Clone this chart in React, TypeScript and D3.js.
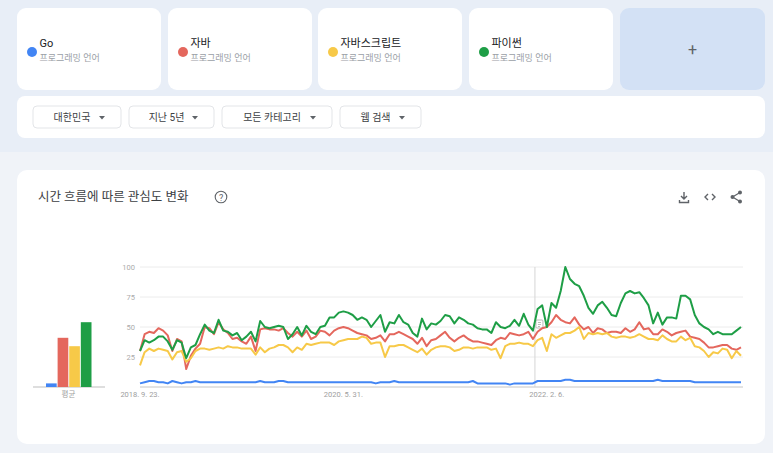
import { useEffect } from 'react';
import * as d3 from 'd3';

// search terms shown in the compare cards
const terms = ['Go', '자바', '자바스크립트', '파이썬'];
const termSub = '프로그래밍 언어';
const colors = ['#4285f4', '#e4675d', '#f7c948', '#1e9e46'];

const filters = ['대한민국', '지난 5년', '모든 카테고리', '웹 검색'];

// averages (left mini bar chart)
const averages = [3, 41, 34, 54];

// bi-weekly samples from 2018-09-23
const goSeries = [
  3, 4, 5, 5, 4, 4, 3, 5, 4, 3, 4, 4, 5, 4, 4, 4, 4, 4, 4, 4, 4, 4, 4, 4, 4, 4, 5,
  4, 4, 4, 5, 5, 4, 4, 4, 4, 4, 4, 4, 4, 4, 4, 4, 4, 4, 4, 4, 4, 4, 4, 4, 3, 4,
  4, 4, 5, 4, 4, 4, 4, 4, 4, 4, 4, 4, 4, 4, 4, 4, 4, 4, 4, 5, 3, 3, 3, 3, 3, 3,
  3, 2, 3, 3, 3, 3, 3, 5, 5, 5, 5, 5, 5, 6, 6, 5, 5, 5, 5, 5, 5, 5, 5, 5, 5, 5,
  5, 5, 5, 5, 5, 5, 5, 6, 5, 5, 5, 5, 5, 5, 5, 4, 4, 4, 4, 4, 4, 4, 4, 4, 4, 4,
];
const javaSeries = [
  30, 44, 46, 45, 49, 47, 43, 30, 40, 38, 15, 26, 32, 36, 50, 49, 44, 54, 48, 45, 40, 41, 38, 36, 42, 30, 48,
  49, 48, 48, 47, 49, 45, 42, 46, 42, 47, 40, 42, 47, 46, 43, 47, 49, 50, 49, 47, 45, 44, 43, 40, 41, 43,
  38, 44, 44, 46, 44, 42, 40, 36, 41, 34, 39, 40, 43, 46, 41, 38, 41, 43, 40, 38, 38, 37, 36, 35, 39, 41,
  40, 45, 44, 43, 44, 46, 40, 46, 49, 50, 54, 60, 56, 54, 53, 58, 52, 48, 50, 45, 49, 48, 45, 46, 46, 45,
  49, 46, 48, 54, 48, 49, 44, 44, 48, 46, 43, 45, 46, 47, 42, 41, 40, 37, 33, 33, 34, 35, 35, 32, 31, 33,
];
const jsSeries = [
  18, 29, 32, 30, 32, 31, 30, 23, 29, 30, 21, 24, 30, 32, 32, 31, 32, 33, 32, 34, 33, 33, 32, 32, 32, 27, 33,
  29, 32, 33, 35, 35, 33, 29, 33, 31, 36, 35, 36, 37, 37, 37, 35, 38, 39, 40, 40, 40, 42, 41, 36, 37, 37,
  25, 34, 34, 35, 35, 33, 31, 29, 32, 27, 31, 33, 34, 34, 33, 30, 31, 33, 33, 32, 33, 33, 33, 31, 32, 24,
  34, 36, 36, 37, 36, 36, 34, 39, 41, 30, 44, 41, 43, 45, 45, 47, 50, 40, 45, 44, 45, 44, 45, 42, 41, 42,
  42, 41, 42, 44, 42, 40, 40, 39, 43, 40, 38, 38, 42, 39, 41, 34, 33, 30, 25, 29, 28, 32, 31, 24, 30, 26,
];
const pythonSeries = [
  30, 39, 37, 39, 42, 42, 38, 31, 39, 37, 24, 33, 35, 44, 52, 47, 45, 56, 47, 46, 43, 45, 39, 42, 46, 38, 55,
  50, 49, 50, 51, 50, 40, 44, 50, 43, 51, 46, 44, 50, 51, 58, 58, 62, 63, 62, 60, 56, 58, 56, 50, 55, 60,
  46, 54, 53, 60, 54, 52, 45, 42, 57, 48, 53, 52, 55, 60, 59, 53, 58, 56, 53, 52, 49, 48, 48, 45, 54, 50,
  49, 51, 56, 51, 61, 52, 47, 65, 68, 50, 70, 66, 80, 100, 90, 86, 84, 76, 66, 61, 68, 71, 66, 60, 59, 70,
  78, 80, 78, 79, 74, 68, 53, 62, 52, 58, 58, 57, 76, 76, 73, 60, 53, 50, 48, 44, 46, 44, 44, 44, 47, 50,
];
const allSeries = [goSeries, javaSeries, jsSeries, pythonSeries];

const yTicks = [25, 50, 75, 100];
const xTickDates = ['2018-09-23', '2020-05-31', '2022-02-06'];
const xTickLabels = ['2018. 9. 23.', '2020. 5. 31.', '2022. 2. 6.'];
const noteDate = '2022-01-01';
const avgLabel = '평균';
const chartTitle = '시간 흐름에 따른 관심도 변화';

const FONT = "Roboto, 'Noto Sans CJK KR', 'Noto Sans', sans-serif";

const start = new Date(2018, 8, 23);
const dates = pythonSeries.map((_, i) => d3.timeDay.offset(start, i * 14));
const parse = d3.timeParse('%Y-%m-%d');

export default function App() {
  useEffect(() => {
    document.body.style.margin = '0';
  }, []);

  const x = d3.scaleTime().domain([dates[0], dates[dates.length - 1]]).range([140, 741]);
  const y = d3.scaleLinear().domain([0, 100]).range([387, 267]);
  const line = d3.line<number>()
    .x((_, i) => x(dates[i]))
    .y(d => y(d));

  const band = d3.scaleBand<string>().domain(terms).range([46, 91.5]).paddingInner(0.08);

  const cardX = [17, 168, 318, 469];
  const btnX = [33, 129, 222, 340];
  const btnW = [88, 85, 110, 81];

  const noteX = x(parse(noteDate) as Date);

  return (
    <svg width={773} height={453} style={{ display: 'block', fontFamily: FONT }}>
      <rect x={0} y={0} width={773} height={453} fill="#f0f3f8" />
      <rect x={0} y={0} width={773} height={152} fill="#e8eef7" />

      {/* term cards */}
      {terms.map((t, i) => (
        <g key={t} transform={`translate(${cardX[i]},8)`}>
          <rect width={144} height={82} rx={9} fill="#fff" />
          <circle cx={15} cy={44} r={5} fill={colors[i]} />
          <text x={22.5} y={39} fontSize={11} fill="#202124">{t}</text>
          <text x={22.5} y={53} fontSize={9} fill="#9aa0a6">{termSub}</text>
        </g>
      ))}
      <rect x={620} y={8} width={145} height={82} rx={9} fill="#d3e1f5" />
      <text x={692.5} y={55} fontSize={16} fill="#5f6368" textAnchor="middle">+</text>

      {/* filter row */}
      <rect x={17} y={96} width={748} height={42} rx={8} fill="#fff" />
      {filters.map((f, i) => (
        <g key={f} transform={`translate(${btnX[i]},106)`}>
          <rect width={btnW[i]} height={22} rx={4} fill="#fff" stroke="#e3e5e8" />
          <text x={btnW[i] / 2 - 5} y={15} fontSize={10} fill="#3c4043" textAnchor="middle">{f}</text>
          <path
            d={`M${btnW[i] - 22},10 l6,0 l-3,3.5 z`}
            fill="#5f6368"
          />
        </g>
      ))}

      {/* chart card */}
      <rect x={17} y={170} width={748} height={274} rx={10} fill="#fff" />
      <text x={38} y={201} fontSize={12.5} fill="#3c4043">{chartTitle}</text>
      <g transform="translate(221,197)" fill="none" stroke="#5f6368">
        <circle r={5.8} strokeWidth={1.1} />
        <text y={3.5} fontSize={9} textAnchor="middle" fill="#5f6368" stroke="none">?</text>
      </g>
      {/* download / embed / share icons */}
      <g stroke="#5f6368" strokeWidth={1.4} fill="none">
        <path d="M684,192 v7 M681,196 l3,3 l3,-3 M679.5,200 v2.5 h9 v-2.5" />
        <path d="M708,194 l-3,3 l3,3 M712,194 l3,3 l-3,3" />
        <path d="M740,192.5 L732.5,197 L740,201.5" strokeWidth={1.2} />
      </g>
      <g fill="#5f6368">
        <circle cx={740} cy={192.5} r={2} />
        <circle cx={732.5} cy={197} r={2} />
        <circle cx={740} cy={201.5} r={2} />
      </g>

      {/* average bars */}
      <line x1={33} x2={105} y1={y(0)} y2={y(0)} stroke="#bdbdbd" />
      {averages.map((v, i) => (
        <rect
          key={terms[i]}
          x={band(terms[i])}
          y={y(v)}
          width={band.bandwidth()}
          height={y(0) - y(v)}
          fill={colors[i]}
        />
      ))}
      <text x={68.5} y={397} fontSize={7.5} fill="#9e9e9e" textAnchor="middle">{avgLabel}</text>

      {/* grid */}
      {yTicks.map(t => (
        <g key={t}>
          <line x1={140} x2={743} y1={y(t)} y2={y(t)} stroke="#ececec" />
          <text x={135} y={y(t) + 2.5} fontSize={7.5} fill="#ababab" textAnchor="end">{t}</text>
        </g>
      ))}
      <line x1={140} x2={743} y1={y(0)} y2={y(0)} stroke="#c6c6c6" />
      {xTickDates.map((d, i) => (
        <text key={d} x={x(parse(d) as Date)} y={397} fontSize={7.5} fill="#9e9e9e" textAnchor="middle">
          {xTickLabels[i]}
        </text>
      ))}

      {/* note marker */}
      <line x1={noteX} x2={noteX} y1={y(100)} y2={y(0)} stroke="#d5d5d5" />
      <g transform={`translate(${noteX + 1},320)`} fill="none" stroke="#a8a8a8" strokeWidth={0.8}>
        <rect width={7} height={8} rx={1} fill="#fff" />
        <path d="M2,2.5 h3 M2,4.5 h3 M2,6.5 h2" />
      </g>

      {/* series */}
      {allSeries.map((s, i) => (
        <path
          key={terms[i]}
          d={line(s) ?? ''}
          fill="none"
          stroke={colors[i]}
          strokeWidth={2}
          strokeLinejoin="round"
        />
      ))}
    </svg>
  );
}
